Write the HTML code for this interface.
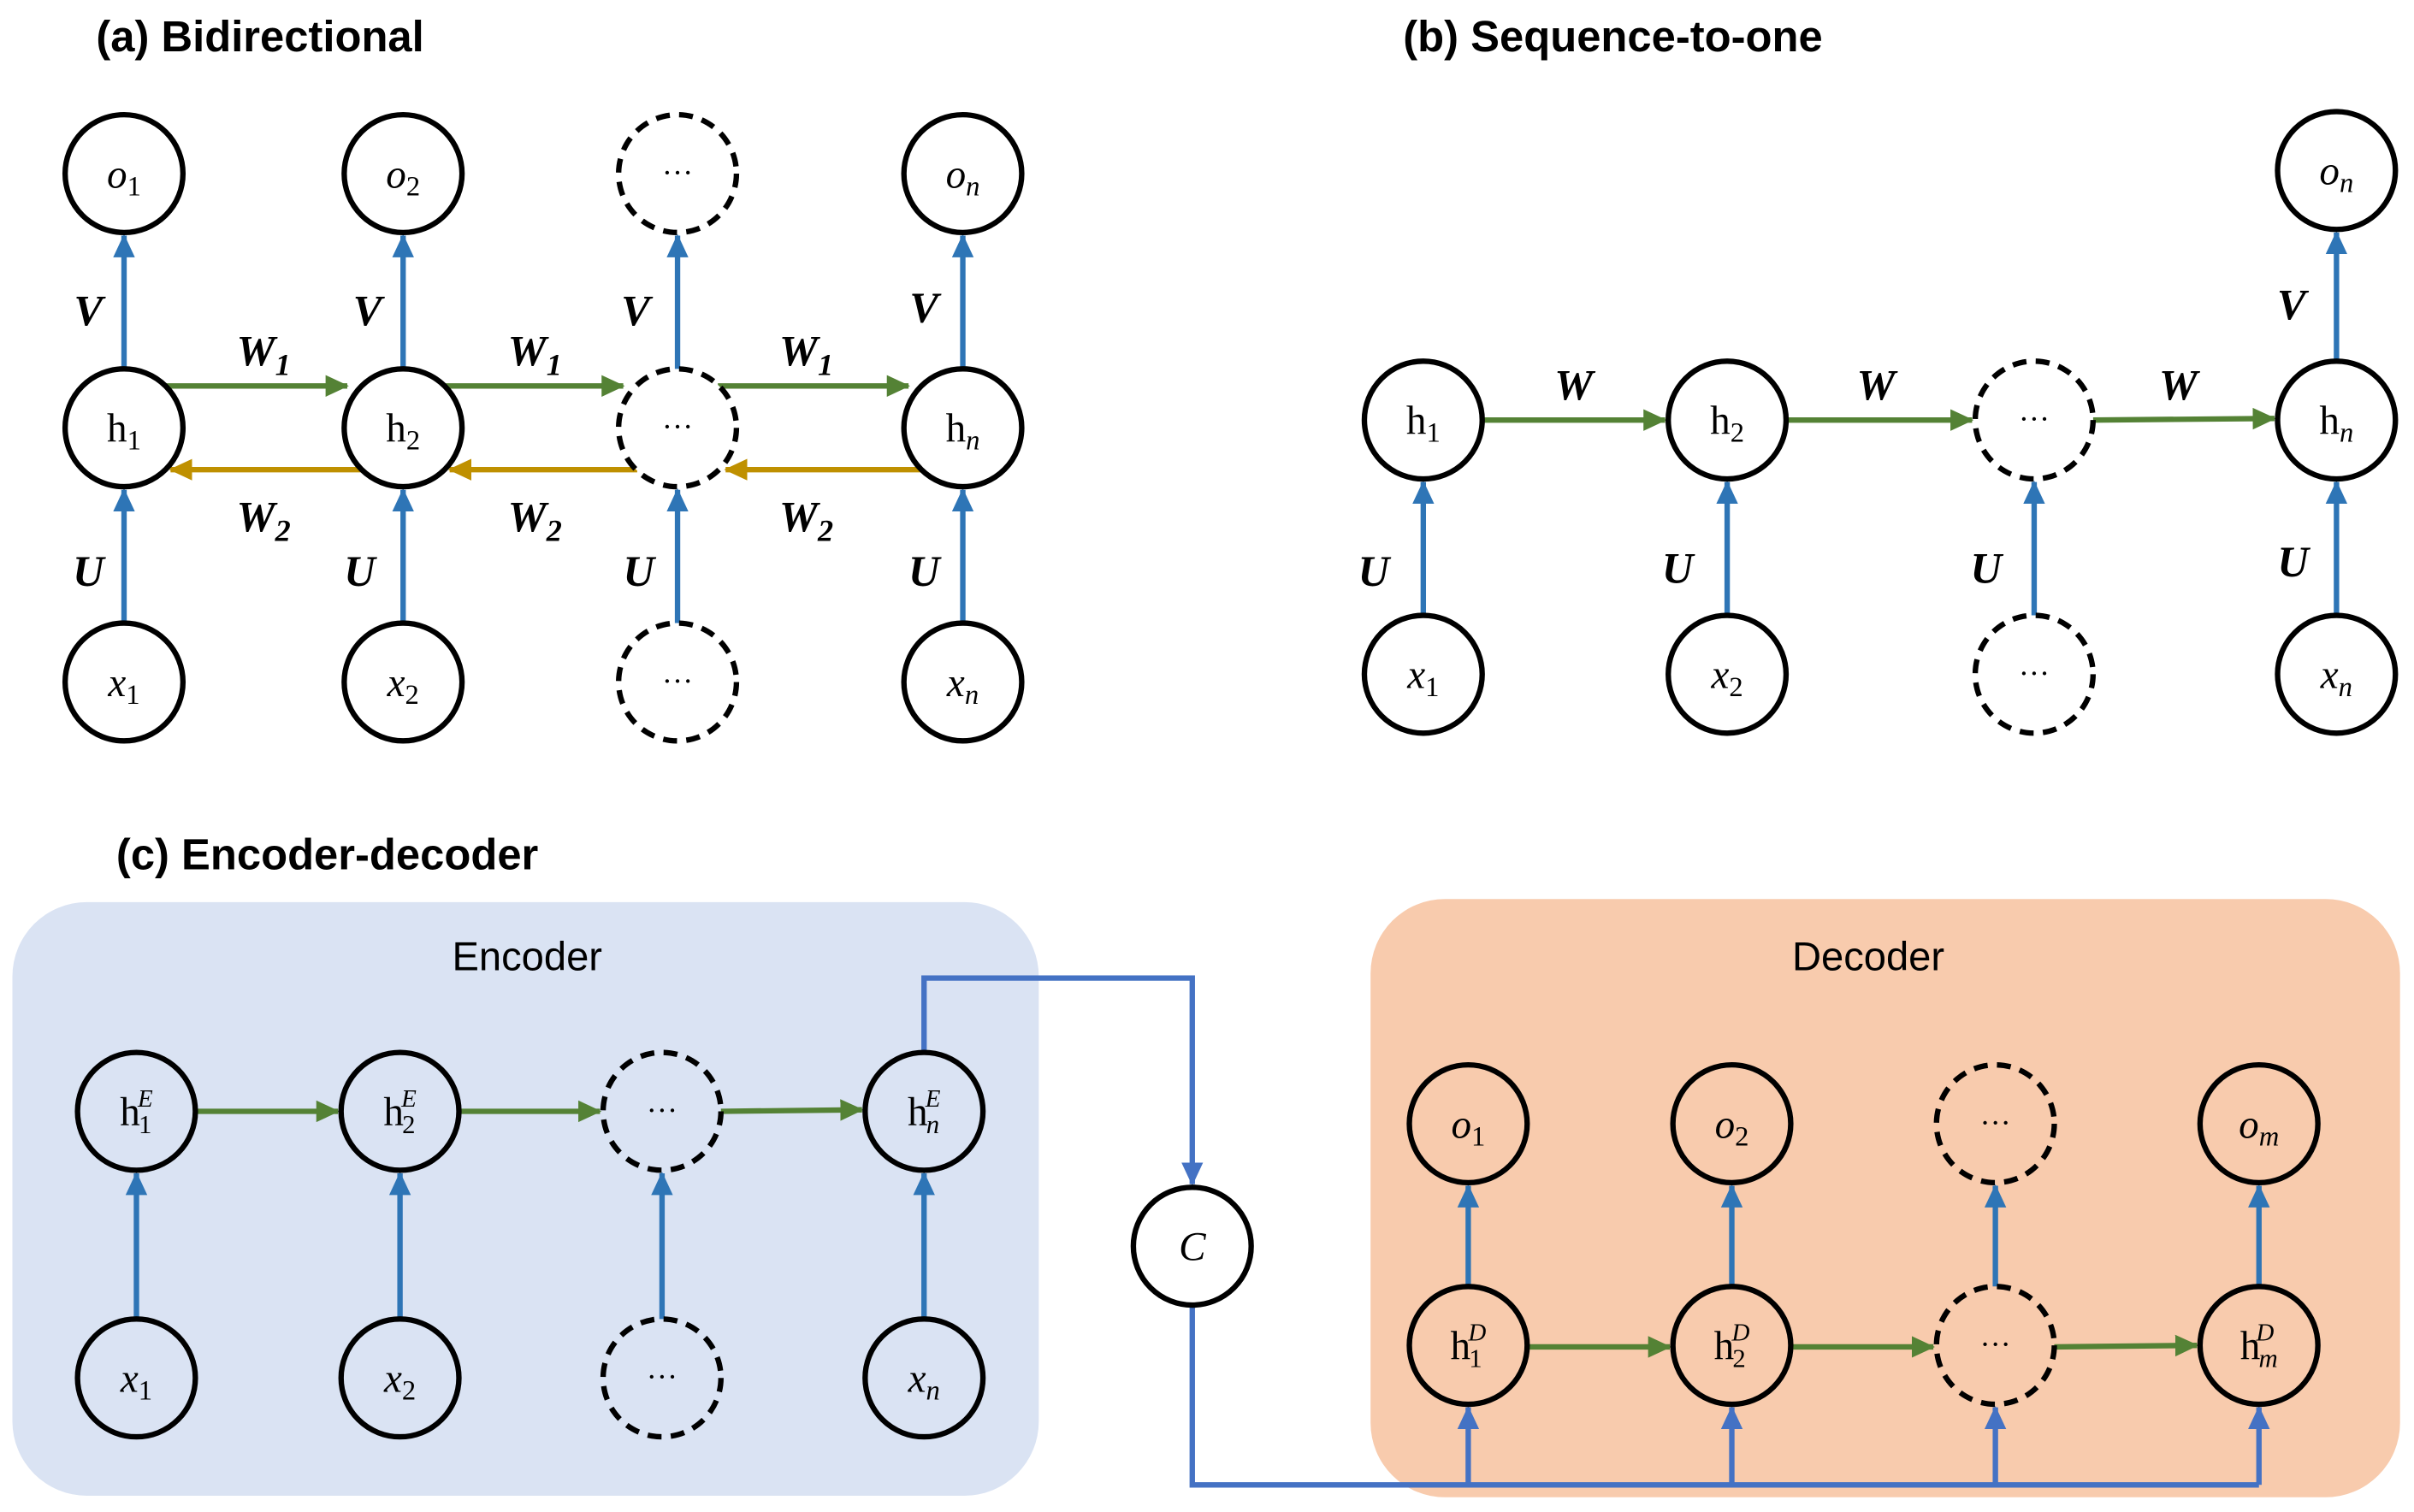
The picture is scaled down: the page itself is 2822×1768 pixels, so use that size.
<!DOCTYPE html>
<html><head><meta charset="utf-8"><style>html,body{margin:0;padding:0;background:#fff}svg{display:block}</style></head>
<body>
<svg width="2822" height="1768" viewBox="0 0 1557 975.5" preserveAspectRatio="none" xmlns="http://www.w3.org/2000/svg" font-family="Liberation Serif, serif">
<defs>
<marker id="ab2" markerWidth="16" markerHeight="16" refX="14" refY="8" orient="auto" markerUnits="userSpaceOnUse"><path d="M0,1 L15,8 L0,15z" fill="#2e75b6"/></marker>
<marker id="ag" markerWidth="16" markerHeight="16" refX="14" refY="8" orient="auto" markerUnits="userSpaceOnUse"><path d="M0,1 L15,8 L0,15z" fill="#548235"/></marker>
<marker id="ay" markerWidth="16" markerHeight="16" refX="14" refY="8" orient="auto" markerUnits="userSpaceOnUse"><path d="M0,1 L15,8 L0,15z" fill="#bf9000"/></marker>
<marker id="ac" markerWidth="16" markerHeight="16" refX="14" refY="8" orient="auto" markerUnits="userSpaceOnUse"><path d="M0,1 L15,8 L0,15z" fill="#4472c4"/></marker>
</defs>
<g font-family="Liberation Sans, sans-serif" font-weight="bold" font-size="28" fill="#000">
<text x="62" y="33">(a) Bidirectional</text>
<text x="905" y="33">(b) Sequence-to-one</text>
<text x="75" y="561">(c) Encoder-decoder</text>
</g>
<rect x="8" y="582" width="662" height="383" rx="48" fill="#dae3f3"/>
<rect x="884" y="580" width="664" height="386" rx="48" fill="#f8cbad"/>
<g font-family="Liberation Sans, sans-serif" font-size="26" text-anchor="middle"><text x="340" y="626">Encoder</text><text x="1205" y="626">Decoder</text></g>
<g stroke-width="3.5" fill="none">
<g stroke="#2e75b6">
<line x1="80" y1="402" x2="80" y2="316" marker-end="url(#ab2)"/><line x1="260" y1="402" x2="260" y2="316" marker-end="url(#ab2)"/><line x1="437" y1="402" x2="437" y2="316" marker-end="url(#ab2)"/><line x1="621" y1="402" x2="621" y2="316" marker-end="url(#ab2)"/>
<line x1="80" y1="238" x2="80" y2="152" marker-end="url(#ab2)"/><line x1="260" y1="238" x2="260" y2="152" marker-end="url(#ab2)"/><line x1="437" y1="238" x2="437" y2="152" marker-end="url(#ab2)"/><line x1="621" y1="238" x2="621" y2="152" marker-end="url(#ab2)"/>
</g>
<g stroke="#548235"><line x1="106" y1="249" x2="224" y2="249" marker-end="url(#ag)"/><line x1="286" y1="249" x2="402" y2="249" marker-end="url(#ag)"/><line x1="463" y1="249" x2="586" y2="249" marker-end="url(#ag)"/></g>
<g stroke="#bf9000"><line x1="234" y1="303" x2="110" y2="303" marker-end="url(#ay)"/><line x1="411" y1="303" x2="290" y2="303" marker-end="url(#ay)"/><line x1="595" y1="303" x2="468" y2="303" marker-end="url(#ay)"/></g>
<g stroke="#2e75b6">
<line x1="918" y1="397" x2="918" y2="311" marker-end="url(#ab2)"/><line x1="1114" y1="397" x2="1114" y2="311" marker-end="url(#ab2)"/><line x1="1312" y1="397" x2="1312" y2="311" marker-end="url(#ab2)"/><line x1="1507" y1="397" x2="1507" y2="311" marker-end="url(#ab2)"/>
<line x1="1507" y1="233" x2="1507" y2="150" marker-end="url(#ab2)"/>
</g>
<g stroke="#548235"><line x1="956" y1="271" x2="1074" y2="271" marker-end="url(#ag)"/><line x1="1152" y1="271" x2="1272" y2="271" marker-end="url(#ag)"/><line x1="1350" y1="271" x2="1467" y2="270" marker-end="url(#ag)"/></g>
<g stroke="#2e75b6">
<line x1="88" y1="851" x2="88" y2="757" marker-end="url(#ab2)"/><line x1="258" y1="851" x2="258" y2="757" marker-end="url(#ab2)"/><line x1="427" y1="851" x2="427" y2="757" marker-end="url(#ab2)"/><line x1="596" y1="851" x2="596" y2="757" marker-end="url(#ab2)"/>
<line x1="947" y1="830" x2="947" y2="765" marker-end="url(#ab2)"/><line x1="1117" y1="830" x2="1117" y2="765" marker-end="url(#ab2)"/><line x1="1287" y1="830" x2="1287" y2="765" marker-end="url(#ab2)"/><line x1="1457" y1="830" x2="1457" y2="765" marker-end="url(#ab2)"/>
</g>
<g stroke="#548235"><line x1="126" y1="717" x2="218" y2="717" marker-end="url(#ag)"/><line x1="296" y1="717" x2="387" y2="717" marker-end="url(#ag)"/><line x1="465" y1="717" x2="556" y2="716" marker-end="url(#ag)"/>
<line x1="985" y1="869" x2="1077" y2="869" marker-end="url(#ag)"/><line x1="1155" y1="869" x2="1247" y2="869" marker-end="url(#ag)"/><line x1="1325" y1="869" x2="1417" y2="868" marker-end="url(#ag)"/></g>
<g stroke="#4472c4">
<polyline points="596,679 596,631 769,631 769,764" marker-end="url(#ac)"/>
<polyline points="769,842 769,958 1457,958"/>
<line x1="947" y1="958" x2="947" y2="908" marker-end="url(#ac)"/><line x1="1117" y1="958" x2="1117" y2="908" marker-end="url(#ac)"/><line x1="1287" y1="958" x2="1287" y2="908" marker-end="url(#ac)"/><line x1="1457" y1="958" x2="1457" y2="908" marker-end="url(#ac)"/>
</g>
<g stroke="#000" fill="#fff">
<circle cx="80" cy="112" r="38"/><circle cx="260" cy="112" r="38"/><circle cx="621" cy="112" r="38"/>
<circle cx="80" cy="276" r="38"/><circle cx="260" cy="276" r="38"/><circle cx="621" cy="276" r="38"/>
<circle cx="80" cy="440" r="38"/><circle cx="260" cy="440" r="38"/><circle cx="621" cy="440" r="38"/>
<circle cx="1507" cy="110" r="38"/>
<circle cx="918" cy="271" r="38"/><circle cx="1114" cy="271" r="38"/><circle cx="1507" cy="271" r="38"/>
<circle cx="918" cy="435" r="38"/><circle cx="1114" cy="435" r="38"/><circle cx="1507" cy="435" r="38"/>
<circle cx="769" cy="804" r="38"/>
</g>
<g stroke="#000" fill="none">
<circle cx="88" cy="717" r="38"/><circle cx="258" cy="717" r="38"/><circle cx="596" cy="717" r="38"/>
<circle cx="88" cy="889" r="38"/><circle cx="258" cy="889" r="38"/><circle cx="596" cy="889" r="38"/>
<circle cx="947" cy="725" r="38"/><circle cx="1117" cy="725" r="38"/><circle cx="1457" cy="725" r="38"/>
<circle cx="947" cy="868" r="38"/><circle cx="1117" cy="868" r="38"/><circle cx="1457" cy="868" r="38"/>
</g>
<g stroke="#000" fill="#fff" stroke-dasharray="9,6">
<circle cx="437" cy="112" r="38"/><circle cx="437" cy="276" r="38"/><circle cx="437" cy="440" r="38"/>
<circle cx="1312" cy="271" r="38"/><circle cx="1312" cy="435" r="38"/>
</g>
<g stroke="#000" fill="none" stroke-dasharray="9,6">
<circle cx="427" cy="717" r="38"/><circle cx="427" cy="889" r="38"/>
<circle cx="1287" cy="725" r="38"/><circle cx="1287" cy="868" r="38"/>
</g>
</g>
<g font-size="26" text-anchor="middle" fill="#000">
<g font-style="italic">
<text x="80" y="121">o<tspan font-size="18" font-style="normal" dy="5">1</tspan></text>
<text x="260" y="121">o<tspan font-size="18" font-style="normal" dy="5">2</tspan></text>
<text x="621" y="121">o<tspan font-size="18" dy="5">n</tspan></text>
<text x="80" y="449">x<tspan font-size="18" font-style="normal" dy="5">1</tspan></text>
<text x="260" y="449">x<tspan font-size="18" font-style="normal" dy="5">2</tspan></text>
<text x="621" y="449">x<tspan font-size="18" dy="5">n</tspan></text>
<text x="1507" y="119">o<tspan font-size="18" dy="5">n</tspan></text>
<text x="918" y="444">x<tspan font-size="18" font-style="normal" dy="5">1</tspan></text>
<text x="1114" y="444">x<tspan font-size="18" font-style="normal" dy="5">2</tspan></text>
<text x="1507" y="444">x<tspan font-size="18" dy="5">n</tspan></text>
<text x="88" y="898">x<tspan font-size="18" font-style="normal" dy="5">1</tspan></text>
<text x="258" y="898">x<tspan font-size="18" font-style="normal" dy="5">2</tspan></text>
<text x="596" y="898">x<tspan font-size="18" dy="5">n</tspan></text>
<text x="947" y="734">o<tspan font-size="18" font-style="normal" dy="5">1</tspan></text>
<text x="1117" y="734">o<tspan font-size="18" font-style="normal" dy="5">2</tspan></text>
<text x="1457" y="734">o<tspan font-size="18" dy="5">m</tspan></text>
<text x="769" y="813">C</text>
</g>
<text x="80" y="285">h<tspan font-size="18" dy="5">1</tspan></text>
<text x="260" y="285">h<tspan font-size="18" dy="5">2</tspan></text>
<text x="621" y="285">h<tspan font-size="18" font-style="italic" dy="5">n</tspan></text>
<text x="918" y="280">h<tspan font-size="18" dy="5">1</tspan></text>
<text x="1114" y="280">h<tspan font-size="18" dy="5">2</tspan></text>
<text x="1507" y="280">h<tspan font-size="18" font-style="italic" dy="5">n</tspan></text>
<text x="88" y="726">h<tspan font-size="17" dy="5" dx="-1">1</tspan><tspan font-size="16" font-style="italic" dx="-9" dy="-17">E</tspan></text>
<text x="258" y="726">h<tspan font-size="17" dy="5" dx="-1">2</tspan><tspan font-size="16" font-style="italic" dx="-9" dy="-17">E</tspan></text>
<text x="596" y="726">h<tspan font-size="17" font-style="italic" dy="5" dx="-1">n</tspan><tspan font-size="16" font-style="italic" dx="-9" dy="-17">E</tspan></text>
<text x="947" y="877">h<tspan font-size="17" dy="5" dx="-1">1</tspan><tspan font-size="16" font-style="italic" dx="-9" dy="-17">D</tspan></text>
<text x="1117" y="877">h<tspan font-size="17" dy="5" dx="-1">2</tspan><tspan font-size="16" font-style="italic" dx="-9" dy="-17">D</tspan></text>
<text x="1457" y="877">h<tspan font-size="17" font-style="italic" dy="5" dx="-1">m</tspan><tspan font-size="16" font-style="italic" dx="-14" dy="-17">D</tspan></text>
<g font-size="20"><text x="437" y="118">···</text><text x="437" y="282">···</text><text x="437" y="446">···</text><text x="1312" y="277">···</text><text x="1312" y="441">···</text><text x="427" y="723">···</text><text x="427" y="895">···</text><text x="1287" y="731">···</text><text x="1287" y="874">···</text></g>
</g>
<g font-size="28" font-weight="bold" font-style="italic" fill="#000" text-anchor="middle">
<text x="57" y="210">V</text><text x="237" y="210">V</text><text x="410" y="210">V</text><text x="596" y="208">V</text>
<text x="57" y="378">U</text><text x="232" y="378">U</text><text x="412" y="378">U</text><text x="596" y="378">U</text>
<text x="170" y="236">W<tspan font-size="20" dy="6">1</tspan></text><text x="345" y="236">W<tspan font-size="20" dy="6">1</tspan></text><text x="520" y="236">W<tspan font-size="20" dy="6">1</tspan></text>
<text x="170" y="343">W<tspan font-size="20" dy="6">2</tspan></text><text x="345" y="343">W<tspan font-size="20" dy="6">2</tspan></text><text x="520" y="343">W<tspan font-size="20" dy="6">2</tspan></text>
<text x="1478" y="206">V</text>
<text x="886" y="378">U</text><text x="1082" y="376">U</text><text x="1281" y="376">U</text><text x="1479" y="372">U</text>
<text x="1015" y="258">W</text><text x="1210" y="258">W</text><text x="1405" y="258">W</text>
</g>
</svg>
</body></html>
